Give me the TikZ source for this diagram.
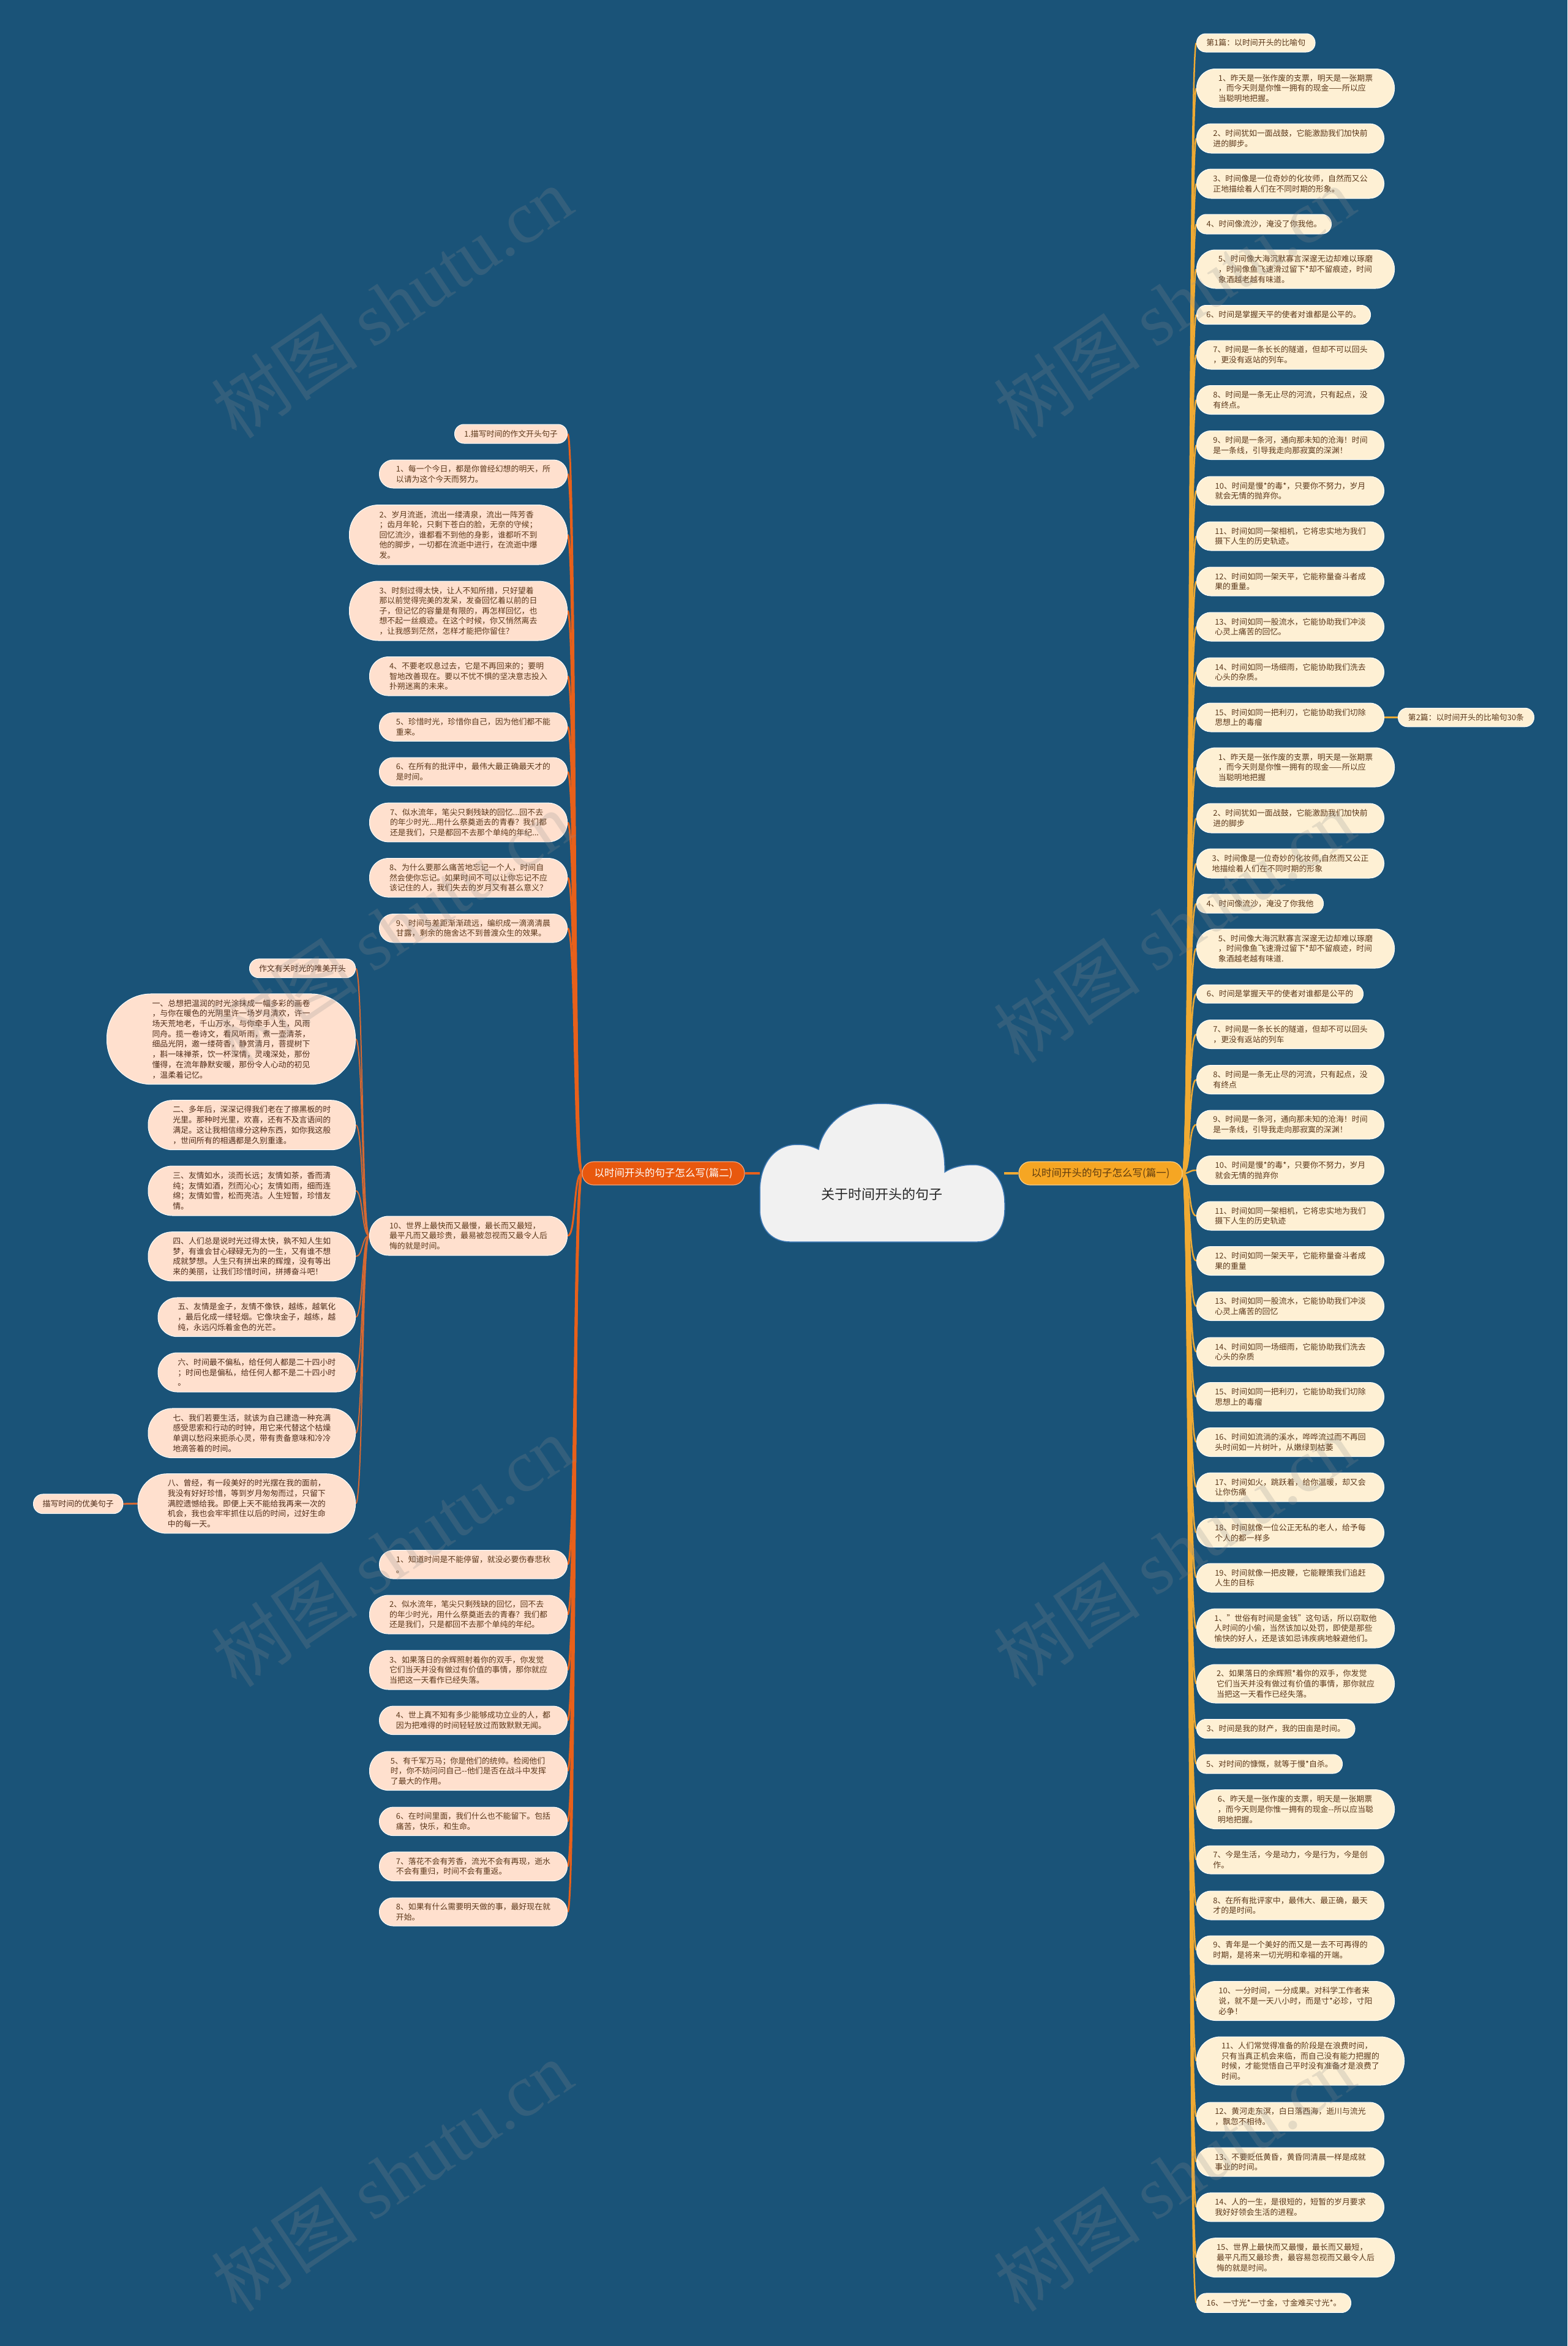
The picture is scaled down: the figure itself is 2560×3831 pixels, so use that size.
\documentclass[tikz,border=0pt]{standalone}
\usepackage{fontspec}
\setmainfont{Noto Sans CJK SC}
\newfontfamily\wmfont{Liberation Serif}
\definecolor{bgc}{RGB}{26,83,120}
\definecolor{amb}{RGB}{246,166,35}
\definecolor{ambl}{RGB}{240,170,50}
\definecolor{redo}{RGB}{232,88,14}
\definecolor{redl}{RGB}{232,96,26}
\definecolor{redf}{RGB}{214,104,50}
\definecolor{cream}{RGB}{254,240,212}
\definecolor{peach}{RGB}{255,224,206}
\definecolor{txtb}{RGB}{92,56,26}
\definecolor{txtf}{RGB}{80,45,25}
\definecolor{cloudc}{RGB}{241,241,241}
\definecolor{cloudb}{RGB}{60,120,180}
\pgfdeclarelayer{back}
\pgfdeclarelayer{lines}
\pgfsetlayers{back,lines,main}
\tikzset{
  bub/.style 2 args={draw=white, line width=1pt, minimum width=#1pt, minimum height=#2pt,
     rounded corners=#2pt*0.49, inner sep=0pt, align=left},
  rb/.style 2 args={bub={#1}{#2}, fill=cream, anchor=west, text=txtb, font=\fontsize{12.9}{16.7}\selectfont},
  lb/.style 2 args={bub={#1}{#2}, fill=peach, anchor=east, text=txtb, font=\fontsize{12.9}{16.6}\selectfont},
  fb/.style 2 args={bub={#1}{#2}, fill=peach, anchor=east, text=txtf, font=\fontsize{12.9}{16.7}\selectfont},
  cr/.style={draw=ambl, line width=2.5pt},
  cl/.style={draw=redl, line width=3pt},
  cf/.style={draw=redf, line width=2pt},
  wm/.style={rotate=34, text=black!45, opacity=0.22, inner sep=0pt, font=\fontsize{120}{120}\selectfont},
}
\begin{document}
\begin{tikzpicture}[x=1pt,y=-1pt]
\useasboundingbox (0,0) rectangle (2560,3831);
\begin{pgfonlayer}{back}
\fill[bgc] (0,0) rectangle (2560,3831);
\end{pgfonlayer}

% cloud
\draw[fill=cloudc, draw=cloudb, line width=1.5pt]
 (1290,2028) -- (1596,2028)
 .. controls (1622,2028) and (1641,2008) .. (1641,1975)
 -- (1641,1965)
 .. controls (1641,1925) and (1618,1902) .. (1590,1902)
 .. controls (1568,1902) and (1552,1908) .. (1543,1914)
 .. controls (1545,1840) and (1505,1802) .. (1440,1802)
 .. controls (1380,1802) and (1343,1840) .. (1337,1877)
 .. controls (1325,1871) and (1315,1869) .. (1302,1869)
 .. controls (1265,1869) and (1241,1900) .. (1241,1945)
 -- (1241,1975)
 .. controls (1241,2008) and (1262,2028) .. (1290,2028)
 -- cycle;
\node[minimum width=399pt, minimum height=2pt, inner sep=0pt] (root) at (1440.5,1916) {};
\node[font=\fontsize{22}{24}\selectfont, text=black!85] (roottxt) at (1440,1950) {关于时间开头的句子};

% main branches
\node[fill=amb, draw=white!45!amb, line width=1.2pt, minimum width=267pt, minimum height=38pt,
  rounded corners=18.6pt, inner sep=0pt, text={rgb,255:red,95;green,60;blue,15},
  font=\fontsize{16.5}{18}\selectfont] (p1) at (1797.5,1916) {以时间开头的句子怎么写(篇一)};
\node[fill=redo, draw=white!45!redo, line width=1.2pt, minimum width=265pt, minimum height=38pt,
  rounded corners=18.6pt, inner sep=0pt, text=white,
  font=\fontsize{16.5}{18}\selectfont] (p2) at (1083.5,1916) {以时间开头的句子怎么写(篇二)};

% right column
\node[rb={193.5}{30}] (rh1) at (1954,70) {第1篇：以时间开头的比喻句};
\node[rb={323}{63}] (r1) at (1954,144) {1、昨天是一张作废的支票，明天是一张期票\\，而今天则是你惟一拥有的现金——所以应\\当聪明地把握。};
\node[rb={306}{48}] (r2) at (1954,226) {2、时间犹如一面战鼓，它能激励我们加快前\\进的脚步。};
\node[rb={306}{48}] (r3) at (1954,300) {3、时间像是一位奇妙的化妆师，自然而又公\\正地描绘着人们在不同时期的形象。};
\node[rb={220}{32}] (r4) at (1954,366) {4、时间像流沙，淹没了你我他。};
\node[rb={323}{63}] (r5) at (1954,439.5) {5、时间像大海沉默寡言深邃无边却难以琢磨\\，时间像鱼飞速滑过留下*却不留痕迹，时间\\象酒越老越有味道。};
\node[rb={284}{31}] (r6) at (1954,514) {6、时间是掌握天平的使者对谁都是公平的。};
\node[rb={306}{47}] (r7) at (1954,579.5) {7、时间是一条长长的隧道，但却不可以回头\\，更没有返站的列车。};
\node[rb={306}{47}] (r8) at (1954,653) {8、时间是一条无止尽的河流，只有起点，没\\有终点。};
\node[rb={306}{47}] (r9) at (1954,727) {9、时间是一条河，通向那未知的沧海！时间\\是一条线，引导我走向那寂寞的深渊！};
\node[rb={306}{47}] (r10) at (1954,801.5) {10、时间是慢*的毒*，只要你不努力，岁月\\就会无情的抛弃你。};
\node[rb={306}{47}] (r11) at (1954,875.5) {11、时间如同一架相机，它将忠实地为我们\\摄下人生的历史轨迹。};
\node[rb={306}{47}] (r12) at (1954,949.5) {12、时间如同一架天平，它能称量奋斗者成\\果的重量。};
\node[rb={306}{47}] (r13) at (1954,1023.5) {13、时间如同一股流水，它能协助我们冲淡\\心灵上痛苦的回忆。};
\node[rb={306}{47}] (r14) at (1954,1097.5) {14、时间如同一场细雨，它能协助我们洗去\\心头的杂质。};
\node[rb={306}{47}] (r15) at (1954,1171.5) {15、时间如同一把利刃，它能协助我们切除\\思想上的毒瘤};
\node[rb={222}{30.5}] (rh2) at (2283,1171.5) {第2篇：以时间开头的比喻句30条};
\node[rb={323}{64}] (s1) at (1954,1253) {1、昨天是一张作废的支票，明天是一张期票\\，而今天则是你惟一拥有的现金——所以应\\当聪明地把握};
\node[rb={306}{48}] (s2) at (1954,1336) {2、时间犹如一面战鼓，它能激励我们加快前\\进的脚步};
\node[rb={306}{48}] (s3) at (1954,1410) {3、时间像是一位奇妙的化妆师,自然而又公正\\地描绘着人们在不同时期的形象};
\node[rb={207}{31}] (s4) at (1954,1475.5) {4、时间像流沙，淹没了你我他};
\node[rb={323}{64}] (s5) at (1954,1549) {5、时间像大海沉默寡言深邃无边却难以琢磨\\，时间像鱼飞速滑过留下*却不留痕迹，时间\\象酒越老越有味道.};
\node[rb={272}{30}] (s6) at (1954,1623) {6、时间是掌握天平的使者对谁都是公平的};
\node[rb={306}{47}] (s7) at (1954,1689) {7、时间是一条长长的隧道，但却不可以回头\\，更没有返站的列车};
\node[rb={306}{47}] (s8) at (1954,1763) {8、时间是一条无止尽的河流，只有起点，没\\有终点};
\node[rb={306}{47}] (s9) at (1954,1836.5) {9、时间是一条河，通向那未知的沧海！时间\\是一条线，引导我走向那寂寞的深渊！};
\node[rb={306}{47}] (s10) at (1954,1911) {10、时间是慢*的毒*，只要你不努力，岁月\\就会无情的抛弃你};
\node[rb={306}{47}] (s11) at (1954,1985.5) {11、时间如同一架相机，它将忠实地为我们\\摄下人生的历史轨迹};
\node[rb={306}{47}] (s12) at (1954,2059) {12、时间如同一架天平，它能称量奋斗者成\\果的重量};
\node[rb={306}{47}] (s13) at (1954,2133) {13、时间如同一股流水，它能协助我们冲淡\\心灵上痛苦的回忆};
\node[rb={306}{47}] (s14) at (1954,2207.5) {14、时间如同一场细雨，它能协助我们洗去\\心头的杂质};
\node[rb={306}{47}] (s15) at (1954,2281) {15、时间如同一把利刃，它能协助我们切除\\思想上的毒瘤};
\node[rb={306}{47}] (s16) at (1954,2355) {16、时间如流淌的溪水，哗哗流过而不再回\\头时间如一片树叶，从嫩绿到枯萎};
\node[rb={306}{47}] (s17) at (1954,2428.5) {17、时间如火，跳跃着，给你温暖，却又会\\让你伤痛};
\node[rb={306}{47}] (s18) at (1954,2503) {18、时间就像一位公正无私的老人，给予每\\个人的都一样多};
\node[rb={306}{47}] (s19) at (1954,2576.5) {19、时间就像一把皮鞭，它能鞭策我们追赶\\人生的目标};
\node[rb={323}{64}] (t1) at (1954,2659) {1、"世俗有时间是金钱"这句话，所以窃取他\\人时间的小偷，当然该加以处罚，即使是那些\\愉快的好人，还是该如忌讳疾病地躲避他们。};
\node[rb={323}{63}] (t2) at (1954,2749.5) {2、如果落日的余辉照*着你的双手，你发觉\\它们当天并没有做过有价值的事情，那你就应\\当把这一天看作已经失落。};
\node[rb={258.5}{31}] (t3) at (1954,2823) {3、时间是我的财产，我的田亩是时间。};
\node[rb={238}{31}] (t5) at (1954,2880.5) {5、对时间的慷慨，就等于慢*自杀。};
\node[rb={323}{64}] (t6) at (1954,2954.6) {6、昨天是一张作废的支票，明天是一张期票\\，而今天则是你惟一拥有的现金-{}-所以应当聪\\明地把握。};
\node[rb={306}{46}] (t7) at (1954,3037) {7、今是生活，今是动力，今是行为，今是创\\作。};
\node[rb={306}{47}] (t8) at (1954,3111.5) {8、在所有批评家中，最伟大、最正确，最天\\才的是时间。};
\node[rb={306}{47}] (t9) at (1954,3184.5) {9、青年是一个美好的而又是一去不可再得的\\时期，是将来一切光明和幸福的开端。};
\node[rb={323}{64}] (t10) at (1954,3267.5) {10、一分时间，一分成果。对科学工作者来\\说，就不是一天八小时，而是寸*必珍，寸阳\\必争！};
\node[rb={339}{79}] (t11) at (1954,3365.5) {11、人们常觉得准备的阶段是在浪费时间，\\只有当真正机会来临，而自己没有能力把握的\\时候，才能觉悟自己平时没有准备才是浪费了\\时间。};
\node[rb={306}{47}] (t12) at (1954,3456.5) {12、黄河走东溟，白日落西海，逝川与流光\\，飘忽不相待。};
\node[rb={306}{47}] (t13) at (1954,3530.5) {13、不要贬低黄昏，黄昏同清晨一样是成就\\事业的时间。};
\node[rb={306}{47}] (t14) at (1954,3604.3) {14、人的一生，是很短的，短暂的岁月要求\\我好好领会生活的进程。};
\node[rb={323}{64}] (t15) at (1954,3686.6) {15、世界上最快而又最慢，最长而又最短，\\最平凡而又最珍贵，最容易忽视而又最令人后\\悔的就是时间。};
\node[rb={252}{31.5}] (t16) at (1954,3760.7) {16、一寸光*一寸金，寸金难买寸光*。};

% left column
\node[lb={184}{31}] (l0) at (927,708.5) {1.描写时间的作文开头句子};
\node[lb={307}{46}] (l1) at (927,774) {1、每一个今日，都是你曾经幻想的明天，所\\以请为这个今天而努力。};
\node[lb={356}{97.5}] (l2) at (927,873.3) {2、岁月流逝，流出一缕清泉，流出一阵芳香\\；齿月年轮，只剩下苍白的脸，无奈的守候；\\回忆流沙，谁都看不到他的身影，谁都听不到\\他的脚步，一切都在流逝中进行，在流逝中爆\\发。};
\node[lb={356}{97}] (l3) at (927,997.5) {3、时刻过得太快，让人不知所措，只好望着\\那以前觉得完美的发呆，发奋回忆着以前的日\\子，但记忆的容量是有限的，再怎样回忆，也\\想不起一丝痕迹。在这个时候，你又悄然离去\\，让我感到茫然，怎样才能把你留住？};
\node[lb={323}{63.5}] (l4) at (927,1104.3) {4、不要老叹息过去，它是不再回来的；要明\\智地改善现在。要以不忧不惧的坚决意志投入\\扑朔迷离的未来。};
\node[lb={307}{46.5}] (l5) at (927,1187) {5、珍惜时光，珍惜你自己，因为他们都不能\\重来。};
\node[lb={307}{46.5}] (l6) at (927,1260.3) {6、在所有的批评中，最伟大最正确最天才的\\是时间。};
\node[lb={323}{63.7}] (l7) at (927,1343) {7、似水流年，笔尖只剩残缺的回忆...回不去\\的年少时光...用什么祭奠逝去的青春？我们都\\还是我们，只是都回不去那个单纯的年纪...};
\node[lb={323}{63.5}] (l8) at (927,1433.3) {8、为什么要那么痛苦地忘记一个人，时间自\\然会使你忘记。如果时间不可以让你忘记不应\\该记住的人，我们失去的岁月又有甚么意义？};
\node[lb={307}{46.5}] (l9) at (927,1515.8) {9、时间与差距渐渐疏远，编织成一滴滴清晨\\甘露，剩余的施舍达不到普渡众生的效果。};
\node[lb={323}{64}] (l10) at (927,2018) {10、世界上最快而又最慢，最长而又最短，\\最平凡而又最珍贵，最易被忽视而又最令人后\\悔的就是时间。};
\node[lb={307}{46.5}] (m1) at (927,2554.8) {1、知道时间是不能停留，就没必要伤春悲秋\\。};
\node[lb={323}{63}] (m2) at (927,2636.5) {2、似水流年，笔尖只剩残缺的回忆，回不去\\的年少时光，用什么祭奠逝去的青春？我们都\\还是我们，只是都回不去那个单纯的年纪。};
\node[lb={323}{64}] (m3) at (927,2727) {3、如果落日的余辉照射着你的双手，你发觉\\它们当天并没有做过有价值的事情，那你就应\\当把这一天看作已经失落。};
\node[lb={307}{46.6}] (m4) at (927,2809.3) {4、世上真不知有多少能够成功立业的人，都\\因为把难得的时间轻轻放过而致默默无闻。};
\node[lb={323}{63.6}] (m5) at (927,2891.8) {5、有千军万马；你是他们的统帅。检阅他们\\时，你不妨问问自己-{}-他们是否在战斗中发挥\\了最大的作用。};
\node[lb={307}{46.6}] (m6) at (927,2974.3) {6、在时间里面，我们什么也不能留下。包括\\痛苦，快乐，和生命。};
\node[lb={307}{47.5}] (m7) at (927,3047.8) {7、落花不会有芳香，流光不会有再现，逝水\\不会有重归，时间不会有重返。};
\node[lb={307}{46}] (m8) at (927,3122) {8、如果有什么需要明天做的事，最好现在就\\开始。};

% far left
\node[fb={173}{30.7}] (f0) at (581,1581.3) {作文有关时光的唯美开头};
\node[fb={406}{147.7}] (f1) at (581,1696.8) {一、总想把温润的时光涂抹成一幅多彩的画卷\\，与你在暖色的光阴里许一场岁月清欢，许一\\场天荒地老，千山万水，与你牵手人生，风雨\\同舟。揽一卷诗文，看风听雨，煮一壶清茶，\\细品光阴，邀一缕荷香，静赏清月，菩提树下\\，斟一味禅茶，饮一杯深情，灵魂深处，那份\\懂得，在流年静默安暖，那份令人心动的初见\\，温柔着记忆。};
\node[fb={338.5}{81}] (f2) at (581,1837.2) {二、多年后，深深记得我们老在了擦黑板的时\\光里。那种时光里，欢喜，还有不及言语间的\\满足。这让我相信缘分这种东西，如你我这般\\，世间所有的相遇都是久别重逢。};
\node[fb={338.5}{81}] (f3) at (581,1944.5) {三、友情如水，淡而长远；友情如茶，香而清\\纯；友情如酒，烈而沁心；友情如雨，细而连\\绵；友情如雪，松而亮洁。人生短暂，珍惜友\\情。};
\node[fb={338.5}{80.3}] (f4) at (581,2051.8) {四、人们总是说时光过得太快，孰不知人生如\\梦，有谁会甘心碌碌无为的一生，又有谁不想\\成就梦想。人生只有拼出来的辉煌，没有等出\\来的美丽，让我们珍惜时间，拼搏奋斗吧！};
\node[fb={322.4}{63.7}] (f5) at (581,2150.8) {五、友情是金子，友情不像铁，越练，越氧化\\，最后化成一缕轻烟。它像块金子，越练，越\\纯，永远闪烁着金色的光芒。};
\node[fb={322.4}{64}] (f6) at (581,2241) {六、时间最不偏私，给任何人都是二十四小时\\；时间也是偏私，给任何人都不是二十四小时\\。};
\node[fb={338.5}{80.7}] (f7) at (581,2340.3) {七、我们若要生活，就该为自己建造一种充满\\感受思索和行动的时钟，用它来代替这个枯燥\\单调以愁闷来扼杀心灵，带有责备意味和冷冷\\地滴答着的时间。};
\node[fb={355.3}{97.3}] (f8) at (581,2455.3) {八、曾经，有一段美好的时光摆在我的面前，\\我没有好好珍惜，等到岁月匆匆而过，只留下\\满腔遗憾给我。即便上天不能给我再来一次的\\机会，我也会牢牢抓住以后的时间，过好生命\\中的每一天。};
\node[fb={146.4}{31.7}] (g) at (201.4,2455.8) {描写时间的优美句子};

% connectors
\begin{pgfonlayer}{lines}
\draw[cr, line width=4pt] (root.east) -- (p1.west);
\draw[cl, line width=4pt] (root.west) -- (p2.east);
\foreach \n in {rh1,r1,r2,r3,r4,r5,r6,r7,r8,r9,r10,r11,r12,r13,r14,r15,
  s1,s2,s3,s4,s5,s6,s7,s8,s9,s10,s11,s12,s13,s14,s15,s16,s17,s18,s19,
  t1,t2,t3,t5,t6,t7,t8,t9,t10,t11,t12,t13,t14,t15,t16}
  \draw[cr] (p1.east) .. controls +(14,0) and +(-14,0) .. (\n.west);
\draw[cr] (r15.east) -- (rh2.west);
\foreach \n in {l0,l1,l2,l3,l4,l5,l6,l7,l8,l9,l10,m1,m2,m3,m4,m5,m6,m7,m8}
  \draw[cl] (p2.west) .. controls +(-14,0) and +(14,0) .. (\n.east);
\foreach \n in {f0,f1,f2,f3,f4,f5,f6,f7,f8}
  \draw[cf] (l10.west) .. controls +(-12,0) and +(12,0) .. (\n.east);
\draw[cf, line width=3pt] (f8.west) -- (g.east);
\end{pgfonlayer}

% watermarks
\node[wm] (w1) at (640,494) {树图 {\wmfont shutu.cn}};
\node[wm] (w2) at (1918,494) {树图 {\wmfont shutu.cn}};
\node[wm] (w3) at (640,1514) {树图 {\wmfont shutu.cn}};
\node[wm] (w4) at (1918,1514) {树图 {\wmfont shutu.cn}};
\node[wm] (w5) at (640,2533) {树图 {\wmfont shutu.cn}};
\node[wm] (w6) at (1918,2533) {树图 {\wmfont shutu.cn}};
\node[wm] (w7) at (640,3553) {树图 {\wmfont shutu.cn}};
\node[wm] (w8) at (1918,3553) {树图 {\wmfont shutu.cn}};
\end{tikzpicture}
\end{document}
